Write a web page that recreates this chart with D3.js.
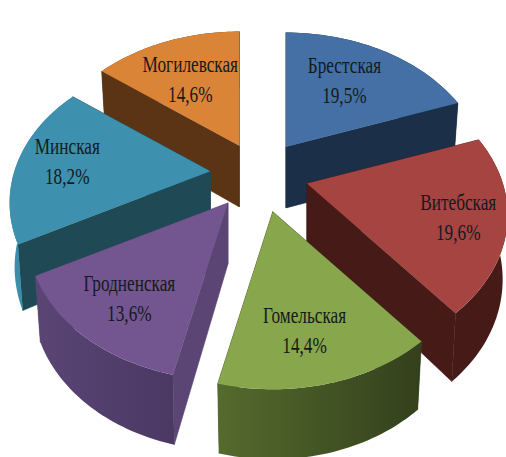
<!DOCTYPE html>
<html><head><meta charset="utf-8">
<script src="https://cdn.jsdelivr.net/npm/d3@7/dist/d3.min.js"></script>
<style>html,body{margin:0;padding:0;background:#fff}svg{display:block}
text{font-family:"Liberation Serif","Times New Roman",serif;fill:#141a1c}</style>
</head><body><svg id="c" width="506" height="457"></svg>
<script>
const categories=["Брестская","Витебская","Гомельская","Гродненская","Минская","Могилевская"];
const values=[19.5,19.6,14.4,13.6,18.2,14.6];
const valueLabels=["19,5%","19,6%","14,4%","13,6%","18,2%","14,6%"];
const topColors=["#4470a6","#a64442","#88a64c","#73568f","#3d90ae","#da8438"];
const edgeColors=["#1c2f49","#451a17","#3b4a20","#5a4575","#1e4955","#5a3414"];
const rimColors=[["#1c2f49","#1c2f49"],["#451a17","#451a17"],["#556a2d","#33401c"],["#5a4575","#4b3863"],["#3d90ae","#2f7f96"],["#5a3414","#5a3414"]];
const drawOrder=[0,5,4,1,3,2];

// projection of the tilted disk
const W=196,H=139,P=0.217,cx=259,cy=174,explode=0.25,depth=63,bottomShrink=0.975;
const apexNudge=[[0,0],[0,0],[2,2],[0,0],[0,0],[1,1.5]];
const project=(u,v)=>{const d=1+P*v;return [W*u/d,-H*v/d];};
const svg=d3.select("#c");
const defs=svg.append("defs");
const slices=d3.pie().sort(null).value(d=>d)(values);
const line=d3.line();
const labelFrac=[[.62,.67],[.76,.9],[.58,.7],[.68,.73],[.74,.74],[.66,.62]];

function geom(s,i){
  const mid=(s.startAngle+s.endAngle)/2;
  const e=project(explode*Math.sin(mid),explode*Math.cos(mid));
  const ax=cx+e[0]+apexNudge[i][0],ay=cy+e[1]+apexNudge[i][1];
  const top=t=>{const p=project(Math.sin(t),Math.cos(t));return [ax+p[0],ay+p[1]];};
  const bot=t=>{const v=Math.cos(t),p=project(Math.sin(t),v);
    return [ax+p[0]*bottomShrink,ay+p[1]+depth/(1+0.1*v)];};
  const ts=d3.range(0,41).map(k=>s.startAngle+(s.endAngle-s.startAngle)*k/40);
  return {mid,ax,ay,top,bot,ts,apexBot:[ax,ay+depth*0.97]};
}
drawOrder.forEach(i=>{
  const s=slices[i],g=geom(s,i);
  const xs=g.ts.map(t=>g.top(t)[0]);
  const gid="rim"+i;
  const lg=defs.append("linearGradient").attr("id",gid).attr("gradientUnits","userSpaceOnUse")
    .attr("x1",d3.min(xs)).attr("x2",d3.max(xs)).attr("y1",0).attr("y2",0);
  lg.append("stop").attr("offset",0).attr("stop-color",rimColors[i][0]);
  lg.append("stop").attr("offset",1).attr("stop-color",rimColors[i][1]);
  const G=svg.append("g");
  // edge walls
  [s.startAngle,s.endAngle].forEach(t=>{
    G.append("path").attr("d",line([[g.ax,g.ay],g.top(t),g.bot(t),g.apexBot])+"Z")
      .attr("fill",edgeColors[i]).attr("stroke",edgeColors[i]).attr("stroke-width",0.6);
  });
  // rim wall
  const rim=g.ts.map(g.top).concat(g.ts.slice().reverse().map(g.bot));
  G.append("path").attr("d",line(rim)+"Z").attr("fill",`url(#${gid})`);
  // top face
  G.append("path").attr("d",line([[g.ax,g.ay]].concat(g.ts.map(g.top)))+"Z").attr("fill",topColors[i]);
});
slices.forEach((s,i)=>{
  const g=geom(s,i),u=Math.sin(g.mid),v=Math.cos(g.mid),p=project(u,v);
  const x=g.ax+p[0]*labelFrac[i][0]-1,y=g.ay+p[1]*labelFrac[i][1];
  const put=(str,yy)=>svg.append("text").attr("text-anchor","middle").attr("font-size",23)
    .attr("transform",`translate(${x},${yy}) scale(0.75,1)`).text(str);
  put(categories[i],y-9);
  put(valueLabels[i],y+21);
});
</script></body></html>
